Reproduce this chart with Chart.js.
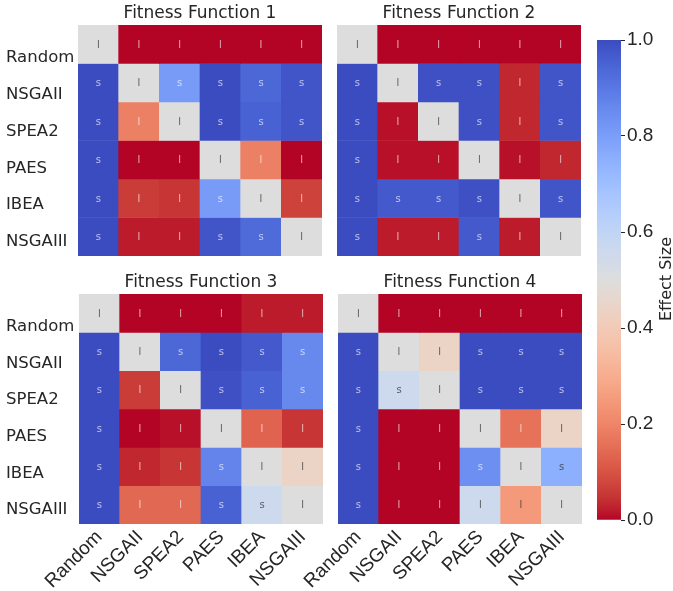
<!DOCTYPE html>
<html lang="en">
<head>
<meta charset="UTF-8" />
<title>Effect Size Heatmaps</title>
<script src="https://cdn.jsdelivr.net/npm/chart.js"></script>
<style>
  body { margin: 0; background: #ffffff; }
  #wrap { position: relative; width: 673px; height: 591px; }
  #wrap canvas { position: absolute; }
</style>
</head>
<body>
<div id="wrap">
  <canvas id="ff1"></canvas>
  <canvas id="ff2"></canvas>
  <canvas id="ff3"></canvas>
  <canvas id="ff4"></canvas>
  <canvas id="cbar"></canvas>
</div>
<script>
const algorithms = ['Random', 'NSGAII', 'SPEA2', 'PAES', 'IBEA', 'NSGAIII'];
const panelTitles = ['Fitness Function 1', 'Fitness Function 2', 'Fitness Function 3', 'Fitness Function 4'];

// effect size, row = algorithm, column = compared against
const ff1Values = [
  [0.5, 0, 0, 0, 0, 0],
  [1, 0.5, 0.81, 1, 0.94, 0.98],
  [1, 0.19, 0.5, 1, 0.95, 0.98],
  [1, 0, 0, 0.5, 0.19, 0],
  [1, 0.06, 0.05, 0.81, 0.5, 0.07],
  [1, 0.02, 0.02, 0.98, 0.93, 0.5]
];
const ff2Values = [
  [0.5, 0, 0, 0, 0, 0],
  [1, 0.5, 0.99, 0.99, 0.03, 0.98],
  [1, 0.01, 0.5, 0.99, 0.03, 0.98],
  [1, 0.01, 0.01, 0.5, 0.01, 0.03],
  [1, 0.97, 0.97, 0.99, 0.5, 0.98],
  [1, 0.02, 0.02, 0.97, 0.02, 0.5]
];
const ff3Values = [
  [0.5, 0, 0, 0, 0.02, 0.02],
  [1, 0.5, 0.94, 1, 0.97, 0.86],
  [1, 0.06, 0.5, 0.99, 0.95, 0.86],
  [1, 0, 0.01, 0.5, 0.13, 0.05],
  [1, 0.03, 0.05, 0.87, 0.5, 0.44],
  [1, 0.14, 0.14, 0.95, 0.56, 0.5]
];
const ff4Values = [
  [0.5, 0, 0, 0, 0, 0],
  [1, 0.5, 0.44, 1, 1, 1],
  [1, 0.56, 0.5, 1, 1, 1],
  [1, 0, 0, 0.5, 0.16, 0.44],
  [1, 0, 0, 0.84, 0.5, 0.75],
  [1, 0, 0, 0.56, 0.25, 0.5]
];

// magnitude marks written in the cells
const ff1Marks = [
  ['l', 'l', 'l', 'l', 'l', 'l'],
  ['s', 'l', 's', 's', 's', 's'],
  ['s', 'l', 'l', 's', 's', 's'],
  ['s', 'l', 'l', 'l', 'l', 'l'],
  ['s', 'l', 'l', 's', 'l', 'l'],
  ['s', 'l', 'l', 's', 's', 'l']
];
const ff2Marks = [
  ['l', 'l', 'l', 'l', 'l', 'l'],
  ['s', 'l', 's', 's', 'l', 's'],
  ['s', 'l', 'l', 's', 'l', 's'],
  ['s', 'l', 'l', 'l', 'l', 'l'],
  ['s', 's', 's', 's', 'l', 's'],
  ['s', 'l', 'l', 's', 'l', 'l']
];
const ff3Marks = [
  ['l', 'l', 'l', 'l', 'l', 'l'],
  ['s', 'l', 's', 's', 's', 's'],
  ['s', 'l', 'l', 's', 's', 's'],
  ['s', 'l', 'l', 'l', 'l', 'l'],
  ['s', 'l', 'l', 's', 'l', 'l'],
  ['s', 'l', 'l', 's', 's', 'l']
];
const ff4Marks = [
  ['l', 'l', 'l', 'l', 'l', 'l'],
  ['s', 'l', 'l', 's', 's', 's'],
  ['s', 's', 'l', 's', 's', 's'],
  ['s', 'l', 'l', 'l', 'l', 'l'],
  ['s', 'l', 'l', 's', 'l', 's'],
  ['s', 'l', 'l', 'l', 'l', 'l']
];

const colorbarTicks = [0, 0.2, 0.4, 0.6, 0.8, 1.0];

// coolwarm colormap, 33 samples from blue (0) to red (1)
const coolwarm = [
  [59,76,192],[68,90,204],[77,104,215],[87,117,225],[98,130,234],[108,142,241],
  [119,154,247],[130,165,251],[141,176,254],[152,185,255],[163,194,255],[174,201,253],
  [184,208,249],[194,213,244],[204,217,238],[213,219,230],[221,221,221],[229,216,209],
  [236,211,197],[241,204,185],[245,196,173],[247,187,160],[247,177,148],[247,166,135],
  [244,154,123],[241,141,111],[236,127,99],[229,112,88],[222,96,77],[213,80,66],
  [203,62,56],[192,40,47],[180,4,38]
];

// reversed: effect size 1 -> blue, 0 -> red
function cmapRGB(v) {
  const t = Math.min(Math.max(1 - v, 0), 1) * (coolwarm.length - 1);
  const i = Math.min(Math.floor(t), coolwarm.length - 2);
  const f = t - i;
  return coolwarm[i].map((c, k) => Math.round(c + (coolwarm[i + 1][k] - c) * f));
}
function cmap(v) {
  const [r, g, b] = cmapRGB(v);
  return `rgb(${r},${g},${b})`;
}

// seaborn style: dark text on light cells, white on dark ones
function markColor(v) {
  const lin = cmapRGB(v).map(c => {
    c = c / 255;
    return c <= 0.03928 ? c / 12.92 : Math.pow((c + 0.055) / 1.055, 2.4);
  });
  const lum = 0.2126 * lin[0] + 0.7152 * lin[1] + 0.0722 * lin[2];
  return lum > 0.408 ? 'rgba(38,38,38,0.7)' : 'rgba(255,255,255,0.65)';
}

const cellText = {
  id: 'cellText',
  afterDatasetsDraw(chart, args, opts) {
    const ctx = chart.ctx;
    ctx.save();
    ctx.font = '10px "DejaVu Sans"';
    ctx.textAlign = 'center';
    ctx.textBaseline = 'middle';
    chart.data.datasets.forEach((ds, r) => {
      chart.getDatasetMeta(r).data.forEach((bar, c) => {
        ctx.fillStyle = markColor(opts.values[r][c]);
        ctx.fillText(opts.marks[r][c], bar.x, (bar.y + bar.base) / 2 + 1);
      });
    });
    ctx.restore();
  }
};

const textColor = '#262626';

function makePanel(id, box, title, values, marks, showY, showX) {
  const canvas = document.getElementById(id);
  canvas.width = box.cw;
  canvas.height = box.ch;
  canvas.style.left = box.cx + 'px';
  canvas.style.top = box.cy + 'px';

  const datasets = values.map((row, r) => ({
    data: algorithms.map(() => [r, r + 1]),
    backgroundColor: row.map(cmap),
    borderWidth: 0,
    barPercentage: 1,
    categoryPercentage: 1,
    grouped: false
  }));

  new Chart(canvas, {
    type: 'bar',
    data: { labels: algorithms, datasets: datasets },
    options: {
      responsive: false,
      animation: false,
      layout: { padding: box.pad },
      scales: {
        x: {
          display: showX,
          grid: { display: false },
          border: { display: false },
          ticks: {
            autoSkip: false,
            minRotation: 45,
            maxRotation: 45,
            padding: -6,
            color: textColor,
            font: { family: '"Liberation Sans", Arial', size: 19 }
          },
          afterFit(scale) {
            scale.height = box.xh;
            scale.paddingLeft = 0;
            scale.paddingRight = 0;
          }
        },
        y: {
          display: showY,
          reverse: true,
          min: 0,
          max: algorithms.length,
          grid: { display: false },
          border: { display: false },
          afterBuildTicks(scale) {
            // labels sit a bit below the cell centres, as in the source figure
            scale.ticks = algorithms.map((a, i) => ({ value: i + 0.86 - 0.045 * i }));
          },
          ticks: {
            crossAlign: 'far',
            padding: 0,
            color: textColor,
            font: { family: '"DejaVu Sans"', size: 16.5 },
            callback: (v, i) => algorithms[i]
          },
          afterFit(scale) {
            scale.width = box.yw;
            scale.paddingTop = 0;
            scale.paddingBottom = 0;
          }
        }
      },
      plugins: {
        legend: { display: false },
        tooltip: { enabled: false },
        title: {
          display: true,
          text: title,
          fullSize: false,
          color: textColor,
          font: { family: '"DejaVu Sans"', size: 17, weight: 'normal' },
          padding: { top: 3.5, bottom: 1.1 }
        },
        cellText: { values: values, marks: marks }
      }
    },
    plugins: [cellText]
  });
}

// grid areas: ff1 x 78-322 y 25-256, ff2 x 337-581, ff3 x 79-323 y 294-524, ff4 x 338-582
makePanel('ff1', { cx: 0, cy: 0, cw: 322, ch: 256, pad: { left: 6 }, yw: 72, xh: 0 },
  panelTitles[0], ff1Values, ff1Marks, true, false);
makePanel('ff2', { cx: 337, cy: 0, cw: 244, ch: 256, pad: {}, yw: 0, xh: 0 },
  panelTitles[1], ff2Values, ff2Marks, false, false);
makePanel('ff3', { cx: 0, cy: 269, cw: 323, ch: 322, pad: { left: 6 }, yw: 73, xh: 67 },
  panelTitles[2], ff3Values, ff3Marks, true, true);
makePanel('ff4', { cx: 270, cy: 269, cw: 312, ch: 322, pad: { left: 68 }, yw: 0, xh: 67 },
  panelTitles[3], ff4Values, ff4Marks, false, true);

// colour bar
const cbarLabel = {
  id: 'cbarLabel',
  afterDraw(chart) {
    const { ctx, chartArea } = chart;
    ctx.save();
    ctx.translate(chartArea.right + 46, (chartArea.top + chartArea.bottom) / 2 - 1);
    ctx.rotate(-Math.PI / 2);
    ctx.font = '16px "DejaVu Sans"';
    ctx.fillStyle = textColor;
    ctx.textAlign = 'center';
    ctx.textBaseline = 'middle';
    ctx.fillText('Effect Size', 0, 0);
    ctx.restore();
  }
};

const cbarCanvas = document.getElementById('cbar');
cbarCanvas.width = 83;
cbarCanvas.height = 591;
cbarCanvas.style.left = '590px';
cbarCanvas.style.top = '0px';

new Chart(cbarCanvas, {
  type: 'bar',
  data: {
    labels: [''],
    datasets: [{
      data: [[0, 1]],
      borderWidth: 0,
      barPercentage: 1,
      categoryPercentage: 1,
      backgroundColor(context) {
        const area = context.chart.chartArea;
        if (!area) return null;
        const g = context.chart.ctx.createLinearGradient(0, area.bottom, 0, area.top);
        for (let i = 0; i <= 50; i++) {
          g.addColorStop(i / 50, cmap(i / 50));
        }
        return g;
      }
    }]
  },
  options: {
    responsive: false,
    animation: false,
    layout: { padding: { left: 7, top: 40, bottom: 71, right: 0 } },
    scales: {
      x: { display: false },
      y: {
        position: 'right',
        min: 0,
        max: 1,
        afterBuildTicks(scale) {
          scale.ticks = colorbarTicks.map(v => ({ value: v }));
        },
        grid: { drawOnChartArea: false, drawTicks: true, tickLength: 4, color: textColor },
        border: { display: false },
        ticks: {
          padding: 2,
          color: textColor,
          font: { family: '"Liberation Sans", Arial', size: 19 },
          callback: v => v.toFixed(1)
        },
        afterFit(scale) {
          scale.width = 52;
          scale.paddingTop = 0;
          scale.paddingBottom = 0;
        }
      }
    },
    plugins: {
      legend: { display: false },
      tooltip: { enabled: false }
    }
  },
  plugins: [cbarLabel]
});
</script>
</body>
</html>
